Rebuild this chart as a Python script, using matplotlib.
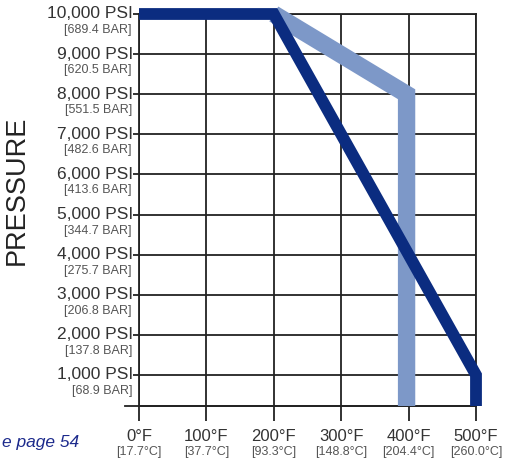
#!/usr/bin/env python

""" pressure vs temperature rating chart """

import matplotlib
matplotlib.use("Agg")
import matplotlib.pyplot as plt

plt.rcParams['font.family'] = ['Liberation Sans', 'DejaVu Sans']

# axis labels
psi_ticks = [1000, 2000, 3000, 4000, 5000, 6000, 7000, 8000, 9000, 10000]
psi_labels = ['1,000 PSI', '2,000 PSI', '3,000 PSI', '4,000 PSI', '5,000 PSI',
              '6,000 PSI', '7,000 PSI', '8,000 PSI', '9,000 PSI', '10,000 PSI']
bar_labels = ['[68.9 BAR]', '[137.8 BAR]', '[206.8 BAR]', '[275.7 BAR]', '[344.7 BAR]',
              '[413.6 BAR]', '[482.6 BAR]', '[551.5 BAR]', '[620.5 BAR]', '[689.4 BAR]']
temp_ticks = [0, 100, 200, 300, 400, 500]
f_labels = ['0°F', '100°F', '200°F', '300°F', '400°F', '500°F']
c_labels = ['[17.7°C]', '[37.7°C]', '[93.3°C]', '[148.8°C]', '[204.4°C]', '[260.0°C]']

psi_min = 227   # bottom edge of the grid

# rating curves (temperature in F, pressure in PSI)
dark_temp = [0, 200, 500, 500]
dark_psi = [10000, 10000, 1000, psi_min]
light_temp = [200, 397, 397]
light_psi = [10000, 8000, psi_min]

dark_blue = '#0b2c80'
light_blue = '#7d98c8'
text_col = '#333333'

fig = plt.figure(figsize=(5.06, 4.61), dpi=100)
ax = fig.add_axes([139 / 506, 1 - 406 / 461, 337 / 506, 392 / 461])

ax.set_xlim(0, 500)
ax.set_ylim(psi_min, 10000)
ax.set_xticks(temp_ticks)
ax.set_yticks(psi_ticks)
ax.set_xticklabels([])
ax.set_yticklabels([])
ax.grid(True, color='#222222', linewidth=1.3)
ax.tick_params(axis='y', direction='out', length=4.5, width=1.3, color='#222222')
ax.tick_params(axis='x', direction='out', length=11, width=1.3, color='#222222')
for s in ax.spines.values():
    s.set_color('#222222')
    s.set_linewidth(1.3)
# bottom line runs a bit past the left axis
ax.axhline(psi_min, xmin=-0.042, xmax=1, color='#222222', linewidth=1.3, clip_on=False)

ax.plot(light_temp, light_psi, color=light_blue, linewidth=12.5,
        solid_capstyle='butt', solid_joinstyle='miter', clip_on=False, zorder=3)
ax.plot(dark_temp, dark_psi, color=dark_blue, linewidth=8.5,
        solid_capstyle='butt', solid_joinstyle='miter', clip_on=False, zorder=4)

# two-line tick labels
for v, p, b in zip(psi_ticks, psi_labels, bar_labels):
    ax.annotate(p, xy=(0, v), xycoords=('axes fraction', 'data'), xytext=(-6, 0),
                textcoords='offset pixels', ha='right', va='center',
                fontsize=12.5, color=text_col, annotation_clip=False)
    ax.annotate(b, xy=(0, v), xycoords=('axes fraction', 'data'), xytext=(-7, -16),
                textcoords='offset pixels', ha='right', va='center',
                fontsize=9, color='#555555', annotation_clip=False)

for t, f, c in zip(temp_ticks, f_labels, c_labels):
    ax.annotate(f, xy=(t, 0), xycoords=('data', 'axes fraction'), xytext=(0, -30),
                textcoords='offset pixels', ha='center', va='center',
                fontsize=12, color=text_col, annotation_clip=False)
    ax.annotate(c, xy=(t, 0), xycoords=('data', 'axes fraction'), xytext=(0, -46),
                textcoords='offset pixels', ha='center', va='center',
                fontsize=9, color='#555555', annotation_clip=False)

fig.text(17 / 506, 1 - 190 / 461, 'PRESSURE', rotation=90, ha='center', va='center',
         fontsize=19.5, color='#222222')
fig.text(2 / 506, 1 - 442 / 461, 'e page 54', ha='left', va='center',
         fontsize=12.5, style='italic', color='#1c2a8c')

fig.savefig('out.png', dpi=100)
